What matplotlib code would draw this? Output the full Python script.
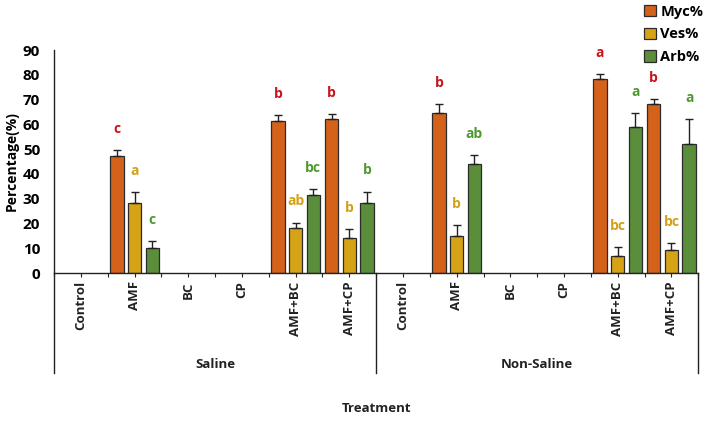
import matplotlib
matplotlib.use("Agg")
import matplotlib.pyplot as plt
import numpy as np
from matplotlib.patches import Patch

plt.rcParams['font.family'] = ['Open Sans', 'DejaVu Sans']

categories = ["Control", "AMF", "BC", "CP", "AMF+BC", "AMF+CP",
              "Control", "AMF", "BC", "CP", "AMF+BC", "AMF+CP"]
groups = ["Saline", "Non-Saline"]
series = ["Myc%", "Ves%", "Arb%"]

myc = [0, 47.4, 0, 0, 61.5, 62.0, 0, 64.7, 0, 0, 78.2, 68.1]
ves = [0, 28.2, 0, 0, 18.2, 14.3, 0, 14.9, 0, 0, 6.7, 9.2]
arb = [0, 10.0, 0, 0, 31.5, 28.3, 0, 44.0, 0, 0, 58.9, 52.2]
myc_err = [0, 2.4, 0, 0, 2.1, 2.3, 0, 3.5, 0, 0, 2.2, 2.2]
ves_err = [0, 4.4, 0, 0, 2.2, 3.5, 0, 4.5, 0, 0, 3.7, 3.0]
arb_err = [0, 3.0, 0, 0, 2.3, 4.6, 0, 3.7, 0, 0, 5.7, 9.8]
myc_let = ["", "c", "", "", "b", "b", "", "b", "", "", "a", "b"]
ves_let = ["", "a", "", "", "ab", "b", "", "b", "", "", "bc", "bc"]
arb_let = ["", "c", "", "", "bc", "b", "", "ab", "", "", "a", "a"]

bar_colors = ["#D4621A", "#D6A317", "#5B8E3A"]
letter_colors = ["#C8141B", "#D4A017", "#4E9A2F"]

fig = plt.figure(figsize=(7.08, 4.24), dpi=100)
ax = fig.add_axes([0.0763, 0.356, 0.910, 0.526])

x = np.arange(len(categories))
offs = [-0.33, 0.0, 0.33]
width = 0.25
vals = [myc, ves, arb]
errs = [myc_err, ves_err, arb_err]
lets = [myc_let, ves_let, arb_let]
for k in range(3):
    v = np.array(vals[k]); e = np.array(errs[k])
    mask = v > 0
    ax.bar(x[mask] + offs[k], v[mask], width, color=bar_colors[k],
           edgecolor="#2b2b2b", linewidth=0.9, zorder=2)
    ax.errorbar(x[mask] + offs[k], v[mask], yerr=[np.zeros(mask.sum()), e[mask]],
                fmt='none', ecolor="#222222", elinewidth=1.0, capsize=3, capthick=1.0, zorder=3)
    for i in range(len(categories)):
        if lets[k][i]:
            ax.text(x[i] + offs[k], v[i] + e[i] + 8.5, lets[k][i], color=letter_colors[k],
                    ha='center', va='center', fontsize=10, fontweight='bold')

ax.set_xlim(-0.5, len(categories) - 0.5)
ax.set_ylim(0, 90)
ax.set_yticks(np.arange(0, 91, 10))
ax.tick_params(axis='y', length=0, labelsize=11, pad=10)
for lab in ax.get_yticklabels():
    lab.set_fontweight('bold')
ax.set_xticks(np.arange(-0.5, len(categories), 0.5))
ax.set_xticklabels([])
ax.tick_params(axis='x', length=3, width=0.8, color="#222222")
for s in ["top", "right"]:
    ax.spines[s].set_visible(False)
ax.spines["left"].set_color("#222222")
ax.spines["bottom"].set_color("#222222")
ax.spines["left"].set_linewidth(1.0)
ax.spines["bottom"].set_linewidth(1.0)
ax.set_ylabel("Percentage(%)", fontsize=10, fontweight='bold', labelpad=3)

trans = ax.get_xaxis_transform()
for i, c in enumerate(categories):
    ax.text(x[i], -0.037, c, transform=trans, rotation=90, ha='center', va='top',
            fontsize=9.5, fontweight='bold', color="#222222")
for xv in [-0.5, 5.5, 11.5]:
    ax.plot([xv, xv], [0, -0.45], transform=trans, color="#222222", lw=1.0, clip_on=False)
for gi, g in enumerate(groups):
    ax.text(2.5 + 6 * gi, -0.41, g, transform=trans, ha='center', va='center',
            fontsize=9.5, fontweight='bold', color="#222222")
fig.text(376 / 708, 1 - 408 / 424, "Treatment", ha='center', va='center',
         fontsize=9.5, fontweight='bold', color="#222222")

handles = [Patch(facecolor=bar_colors[k], edgecolor="#2b2b2b", linewidth=0.9) for k in range(3)]
fig.legend(handles, series, loc='upper right', bbox_to_anchor=(1.012, 1.02), frameon=False,
           prop={'weight': 'bold', 'size': 10.5}, handlelength=0.8, handleheight=0.8,
           handletextpad=0.3, labelspacing=0.6)

fig.savefig("out.png", dpi=100)
